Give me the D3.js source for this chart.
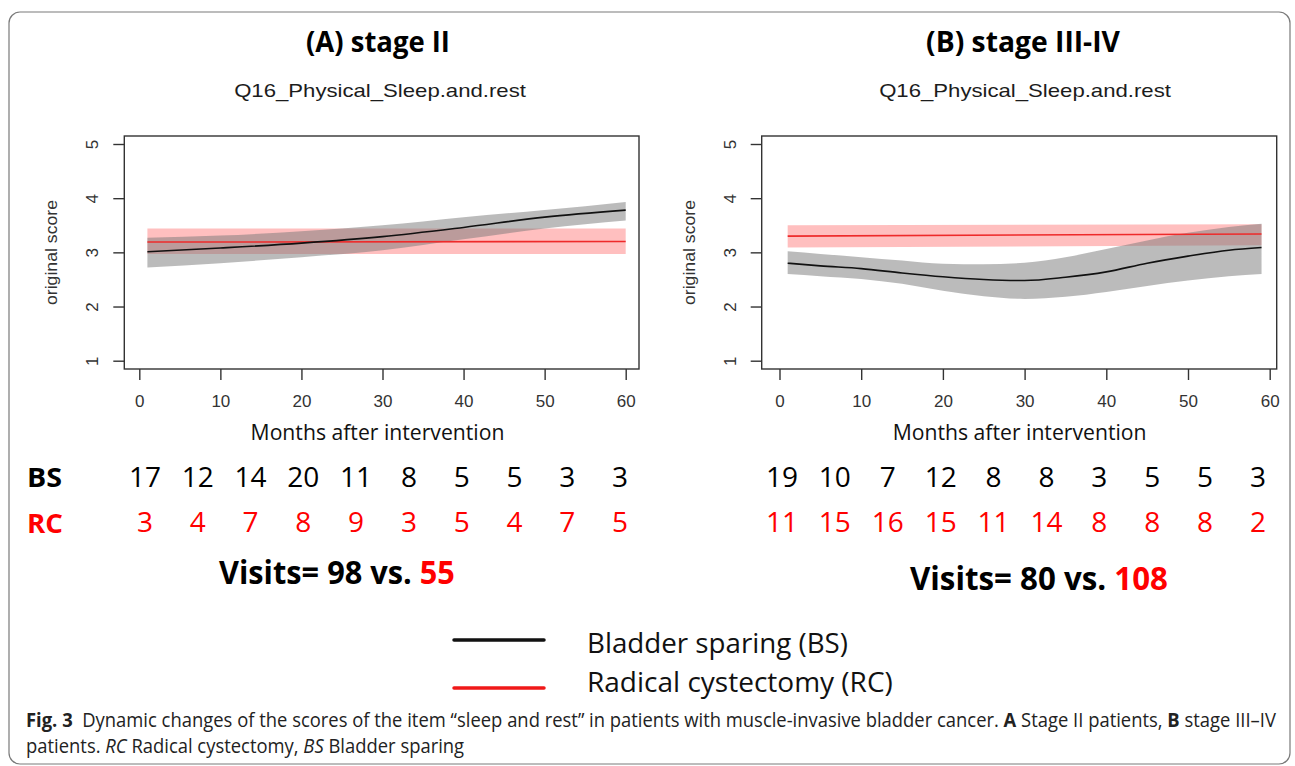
<!DOCTYPE html>
<html>
<head>
<meta charset="utf-8">
<script src="https://cdn.jsdelivr.net/npm/d3@7"></script>
<style>
  body { margin: 0; background: #fff; }
  svg { display: block; }
  text { white-space: pre; }
</style>
</head>
<body>
<svg id="chart" width="1295" height="766"></svg>
<script>
// ---- data ----
const xTicks = [0, 10, 20, 30, 40, 50, 60];
const yTicks = [1, 2, 3, 4, 5];
const periods = ["0-6", "6-12", "12-18", "18-24", "24-30", "30-36", "36-42", "42-48", "48-54", "54-60"];

// (A) stage II
const aBsMonth = [1, 10, 20, 30, 40, 50, 60];
const aBsFit   = [3.01, 3.08, 3.17, 3.29, 3.46, 3.65, 3.78];
const aBsLow   = [2.72, 2.80, 2.91, 3.04, 3.24, 3.44, 3.59];
const aBsHigh  = [3.27, 3.31, 3.39, 3.50, 3.65, 3.78, 3.93];
const aRcMonth = [1, 60];
const aRcFit   = [3.19, 3.20];
const aRcLow   = [2.97, 2.97];
const aRcHigh  = [3.44, 3.44];
const aBsCounts = [17, 12, 14, 20, 11, 8, 5, 5, 3, 3];
const aRcCounts = [3, 4, 7, 8, 9, 3, 5, 4, 7, 5];
const aVisits = [98, 55];

// (B) stage III-IV
const bBsMonth = [1, 5, 10, 15, 20, 25, 30, 35, 40, 45, 50, 55, 59];
const bBsFit   = [2.80, 2.75, 2.70, 2.62, 2.55, 2.50, 2.48, 2.54, 2.64, 2.80, 2.93, 3.04, 3.09];
const bBsLow   = [2.60, 2.56, 2.51, 2.42, 2.29, 2.19, 2.14, 2.18, 2.27, 2.38, 2.48, 2.56, 2.60];
const bBsHigh  = [3.02, 2.97, 2.91, 2.85, 2.79, 2.78, 2.81, 2.91, 3.06, 3.22, 3.36, 3.47, 3.53];
const bRcMonth = [1, 59];
const bRcFit   = [3.30, 3.34];
const bRcLow   = [3.09, 3.13];
const bRcHigh  = [3.50, 3.52];
const bBsCounts = [19, 10, 7, 12, 8, 8, 3, 5, 5, 3];
const bRcCounts = [11, 15, 16, 15, 11, 14, 8, 8, 8, 2];
const bVisits = [80, 108];

const RED = "#ff0000";
const svg = d3.select("#chart");

// text helper: optional horizontal squeeze to a target width
function label(parent, str, x, y, o) {
  let t = parent.append("text")
    .attr("font-family", o.font)
    .attr("font-size", o.size)
    .attr("font-weight", o.weight || "normal")
    .attr("fill", o.fill || "#000")
    .attr("text-anchor", o.anchor || "start");
  if (typeof str === "string") t.text(str);
  else str.forEach(p => {
    t.append("tspan").text(p.t)
      .attr("font-weight", p.weight || null)
      .attr("font-style", p.style || null)
      .attr("fill", p.fill || null);
  });
  let tr = "translate(" + x + "," + y + ")";
  if (o.rotate) tr += " rotate(" + o.rotate + ")";
  let sx = o.sx || 1;
  if (o.width) sx = o.width / t.node().getComputedTextLength();
  tr += " scale(" + sx + ",1)";
  t.attr("transform", tr);
  t.sx = sx;
  return t;
}

// outer frame
svg.append("rect")
  .attr("x", 9).attr("y", 12).attr("width", 1281).attr("height", 752)
  .attr("rx", 11)
  .attr("fill", "none").attr("stroke", "#7a7a7a").attr("stroke-width", 1.2);

const panels = [
  {
    title: "(A) stage II", titleX: 378, titleW: 144,
    box: [124.3, 639], xr: [139.3, 625.7], cols: [145, 620], visitsX: 219, visitsW: 236, visitsY: 584,
    bs: { m: aBsMonth, fit: aBsFit, lo: aBsLow, hi: aBsHigh },
    rc: { m: aRcMonth, fit: aRcFit, lo: aRcLow, hi: aRcHigh },
    bsCounts: aBsCounts, rcCounts: aRcCounts, visits: aVisits
  },
  {
    title: "(B) stage III-IV", titleX: 1023, titleW: 194,
    box: [761.7, 1276.7], xr: [779.5, 1269.7], cols: [782, 1258], visitsX: 910, visitsW: 258, visitsY: 590,
    bs: { m: bBsMonth, fit: bBsFit, lo: bBsLow, hi: bBsHigh },
    rc: { m: bRcMonth, fit: bRcFit, lo: bRcLow, hi: bRcHigh },
    bsCounts: bBsCounts, rcCounts: bRcCounts, visits: bVisits
  }
];

const boxTop = 136, boxBottom = 369;

panels.forEach(p => {
  const g = svg.append("g");
  const x = d3.scaleLinear().domain([0, 60]).range(p.xr);
  const y = d3.scaleLinear().domain([1, 5]).range([360.7, 144]);
  const mid = (p.xr[0] + p.xr[1]) / 2;

  label(g, p.title, p.titleX, 52, { font: "Open Sans", size: 29, weight: "bold", anchor: "middle", width: p.titleW });
  label(g, "Q16_Physical_Sleep.and.rest", p.titleX + 2, 97, { font: "Liberation Sans", size: 18, fill: "#1c1c1c", anchor: "middle", width: 292 });

  const rows = s => s.m.map((m, i) => ({ m: m, fit: s.fit[i], lo: s.lo[i], hi: s.hi[i] }));
  const band = d3.area().curve(d3.curveMonotoneX)
    .x(d => x(d.m)).y0(d => y(d.lo)).y1(d => y(d.hi));
  const line = d3.line().curve(d3.curveMonotoneX)
    .x(d => x(d.m)).y(d => y(d.fit));

  g.append("path").datum(rows(p.rc)).attr("d", band).attr("fill", "rgba(255,0,0,0.25)");
  g.append("path").datum(rows(p.bs)).attr("d", band).attr("fill", "rgba(120,120,120,0.5)");
  g.append("path").datum(rows(p.rc)).attr("d", line)
    .attr("fill", "none").attr("stroke", "#ee2a2a").attr("stroke-width", 1.6);
  g.append("path").datum(rows(p.bs)).attr("d", line)
    .attr("fill", "none").attr("stroke", "#111").attr("stroke-width", 1.6);

  // box
  g.append("rect")
    .attr("x", p.box[0]).attr("y", boxTop)
    .attr("width", p.box[1] - p.box[0]).attr("height", boxBottom - boxTop)
    .attr("fill", "none").attr("stroke", "#333").attr("stroke-width", 1.4);

  // x axis (ticks out of the box bottom)
  const xa = g.append("g").attr("transform", "translate(0," + boxBottom + ")")
    .call(d3.axisBottom(x).tickValues(xTicks).tickSize(11).tickFormat(d3.format("d")));
  xa.select(".domain").remove();
  xa.selectAll(".tick line").attr("stroke", "#333").attr("stroke-width", 1.4);
  xa.selectAll(".tick text").attr("font-family", "Liberation Sans").attr("font-size", 17)
    .attr("fill", "#333").attr("dy", null).attr("y", 38);

  // y axis (rotated labels, as in R)
  const ya = g.append("g").attr("transform", "translate(" + p.box[0] + ",0)")
    .call(d3.axisLeft(y).tickValues(yTicks).tickSize(11).tickFormat(d3.format("d")));
  ya.select(".domain").remove();
  ya.selectAll(".tick line").attr("stroke", "#333").attr("stroke-width", 1.4);
  ya.selectAll(".tick text").attr("font-family", "Liberation Sans").attr("font-size", 17)
    .attr("fill", "#333").attr("x", null).attr("dy", null)
    .attr("text-anchor", "middle")
    .attr("transform", "translate(-26,0) rotate(-90)");

  label(g, "original score", p.box[0] - 67, 252.5, { font: "Liberation Sans", size: 17, fill: "#333", anchor: "middle", rotate: -90, width: 105 });
  label(g, "Months after intervention", mid - 5, 440, { font: "Open Sans", size: 21, fill: "#111", anchor: "middle", width: 254 });

  // visit counts per period
  const cx = d3.scalePoint().domain(periods).range(p.cols);
  g.selectAll("text.bs").data(p.bsCounts).join("text").attr("class", "bs")
    .attr("x", (d, i) => cx(periods[i])).attr("y", 487)
    .attr("text-anchor", "middle").attr("font-family", "Open Sans").attr("font-size", 28)
    .attr("fill", "#000").text(d => d);
  g.selectAll("text.rc").data(p.rcCounts).join("text").attr("class", "rc")
    .attr("x", (d, i) => cx(periods[i])).attr("y", 532)
    .attr("text-anchor", "middle").attr("font-family", "Open Sans").attr("font-size", 28)
    .attr("fill", RED).text(d => d);

  label(g, [{ t: "Visits= " + p.visits[0] + " vs. " }, { t: String(p.visits[1]), fill: RED }],
    p.visitsX, p.visitsY, { font: "Open Sans", size: 32, weight: "bold", width: p.visitsW });
});

// row labels
label(svg, "BS", 27, 487, { font: "Open Sans", size: 27, weight: "bold", width: 35 });
label(svg, "RC", 27, 533, { font: "Open Sans", size: 27, weight: "bold", fill: RED, width: 36 });

// legend
const legend = [
  { name: "Bladder sparing (BS)", color: "#111", y: 640, ty: 653, w: 261 },
  { name: "Radical cystectomy (RC)", color: "#f01818", y: 688, ty: 692, w: 306 }
];
legend.forEach(l => {
  svg.append("line").attr("x1", 454).attr("x2", 544).attr("y1", l.y).attr("y2", l.y)
    .attr("stroke", l.color).attr("stroke-width", 3.5).attr("stroke-linecap", "round");
  label(svg, l.name, 587, l.ty, { font: "Open Sans", size: 27, fill: "#111", width: l.w });
});

// caption
const cap1 = label(svg, [
  { t: "Fig. 3", weight: "bold" },
  { t: "  Dynamic changes of the scores of the item \u201csleep and rest\u201d in patients with muscle-invasive bladder cancer. " },
  { t: "A", weight: "bold" },
  { t: " Stage II patients, " },
  { t: "B", weight: "bold" },
  { t: " stage III\u2013IV" }
], 26, 727, { font: "Open Sans", size: 19.5, fill: "#222", width: 1251 });
label(svg, [
  { t: "patients. " },
  { t: "RC", style: "italic" },
  { t: " Radical cystectomy, " },
  { t: "BS", style: "italic" },
  { t: " Bladder sparing" }
], 26, 753, { font: "Open Sans", size: 19.5, fill: "#222", sx: cap1.sx });
</script>
</body>
</html>
